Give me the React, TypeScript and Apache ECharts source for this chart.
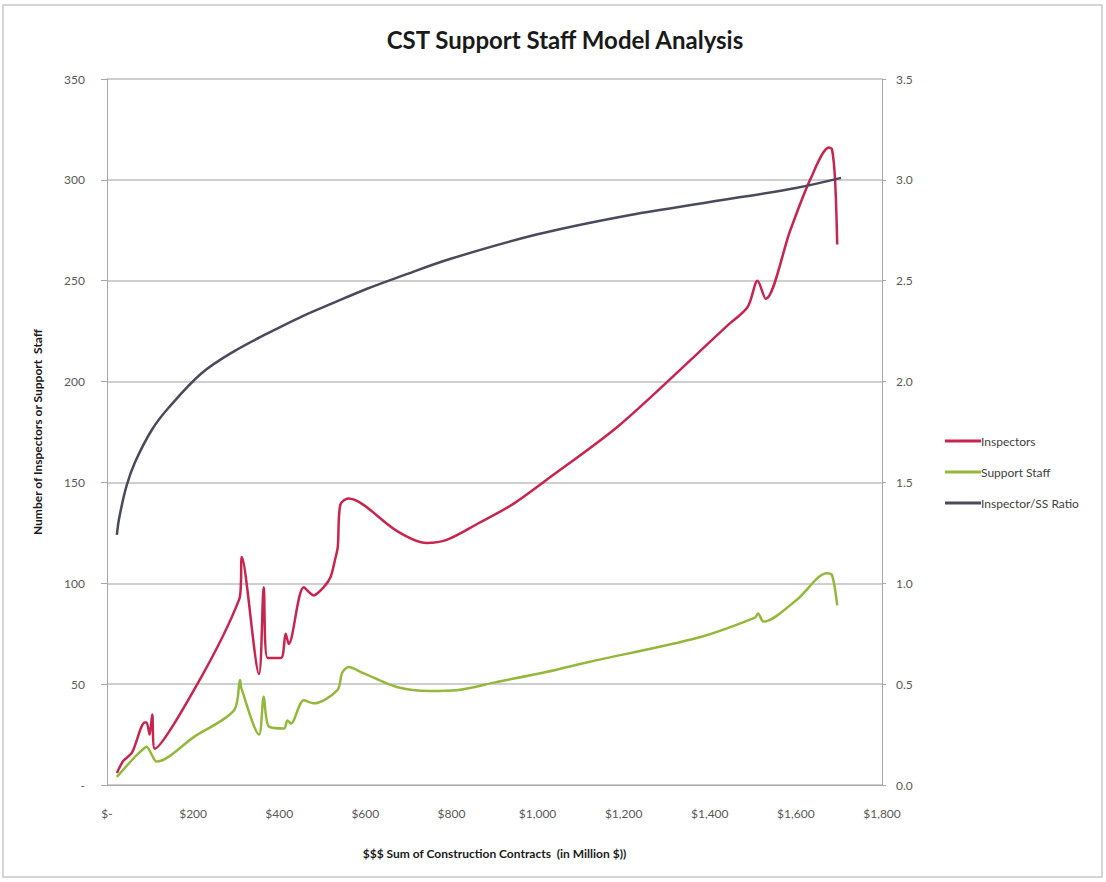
import React, { useEffect, useRef } from "react";
import * as echarts from "echarts";

const xTickLabels = ["$-", "$200", "$400", "$600", "$800", "$1,000", "$1,200", "$1,400", "$1,600", "$1,800"];

const inspX = [23, 38, 58, 88, 92, 99, 105, 111, 215, 307, 311, 313, 353, 364, 373, 404, 415, 422, 457, 480, 503, 519, 530, 536, 542, 561, 595, 673, 742, 789, 865, 941, 1019, 1188, 1372, 1442, 1488, 1511, 1530, 1587, 1633, 1677, 1684, 1691, 1696];
const inspY = [6, 12, 16, 31, 31, 25, 35, 18, 52, 92, 100, 113, 55, 98, 63, 63, 75, 70, 98, 94, 98, 103, 112, 118, 139, 142, 139, 126, 120, 121.5, 130, 139, 151, 178, 214, 228, 237, 250, 241, 275, 300, 316, 315, 300, 268];

const ssX = [23, 65, 85, 92, 104, 115, 203, 295, 309, 312, 353, 364, 376, 411, 419, 427, 457, 480, 535, 546, 561, 595, 673, 750, 812, 904, 1020, 1119, 1372, 1505, 1512, 1525, 1603, 1672, 1684, 1696];
const ssY = [4, 14, 18, 19, 15, 11.6, 24, 37, 52, 48, 25, 43.7, 29, 28, 32, 30.5, 42, 40.5, 47, 55.5, 58.5, 55.5, 48.6, 46.6, 47, 51, 56, 61, 73, 83, 85, 81, 92, 105, 104, 89];

const ratioX = [23, 28, 45, 65, 104, 143, 219, 295, 374, 450, 526, 604, 680, 800, 1000, 1200, 1400, 1600, 1705];
const ratioY = [1.24, 1.32, 1.48, 1.6, 1.76, 1.87, 2.04, 2.15, 2.24, 2.32, 2.39, 2.46, 2.52, 2.61, 2.73, 2.82, 2.89, 2.96, 3.01];

const seriesNames = ["Inspectors", "Support Staff", "Inspector/SS Ratio"];
const seriesColors = ["#C7254E", "#93B83C", "#4A4A5C"];

const zip = (xs: number[], ys: number[]) => xs.map((x, i) => [x, ys[i]]);

export default function App() {
  const ref = useRef<HTMLDivElement>(null);
  useEffect(() => {
    document.body.style.margin = "0";
    if (!ref.current) return;
    const chart = echarts.init(ref.current, null, { renderer: "svg" });
    const font = "Lato, 'Open Sans', sans-serif";
    chart.setOption({
      animation: false,
      backgroundColor: "#ffffff",
      textStyle: { fontFamily: font },
      title: {
        text: "CST Support Staff Model Analysis",
        left: 560,
        textAlign: "center",
        top: 22,
        textStyle: { fontSize: 24, fontWeight: "bold", color: "#1a1a1a", fontFamily: font },
      },
      graphic: [
        {
          type: "rect",
          shape: { x: 3, y: 5, width: 1099, height: 872 },
          style: { fill: "none", stroke: "#C8C8C8", lineWidth: 1.5 },
          silent: true,
        },
      ],
      legend: {
        orient: "vertical",
        left: 940,
        top: 430,
        itemGap: 19,
        itemWidth: 36,
        itemHeight: 3,
        icon: "rect",
        textStyle: { fontSize: 12, color: "#404040", fontFamily: font, padding: [0, 0, 0, -5] },
        data: seriesNames,
      },
      grid: { left: 107, right: 224, top: 79, bottom: 97, containLabel: false },
      xAxis: {
        type: "value",
        min: 0,
        max: 1800,
        interval: 200,
        name: "$$$ Sum of Construction Contracts  (in Million $))",
        nameLocation: "middle",
        nameGap: 62,
        nameTextStyle: { fontSize: 12, fontWeight: "bold", color: "#1a1a1a" },
        axisLine: { lineStyle: { color: "#A6A6A6" } },
        axisTick: { show: false },
        splitLine: { show: false },
        axisLabel: {
          margin: 22,
          fontSize: 12,
          color: "#595959",
          formatter: (v: number) => xTickLabels[Math.round(v / 200)] ?? "",
        },
      },
      yAxis: [
        {
          type: "value",
          min: 0,
          max: 350,
          interval: 50,
          name: "Number of Inspectors or Support  Staff",
          nameLocation: "middle",
          nameGap: 64,
          nameTextStyle: { fontSize: 12, fontWeight: "bold", color: "#1a1a1a" },
          axisLine: { show: true, lineStyle: { color: "#A6A6A6" } },
          axisTick: { show: true, length: 6, lineStyle: { color: "#A6A6A6" } },
          splitLine: { lineStyle: { color: "#BFBFBF", width: 1.5 } },
          axisLabel: {
            margin: 22,
            fontSize: 12,
            color: "#595959",
            formatter: (v: number) => (v === 0 ? "-" : String(v)),
          },
        },
        {
          type: "value",
          min: 0,
          max: 3.5,
          interval: 0.5,
          position: "right",
          axisLine: { show: true, lineStyle: { color: "#A6A6A6" } },
          axisTick: { show: true, length: 4, lineStyle: { color: "#A6A6A6" } },
          splitLine: { show: false },
          axisLabel: {
            margin: 14,
            fontSize: 12,
            color: "#595959",
            formatter: (v: number) => v.toFixed(1),
          },
        },
      ],
      series: [
        {
          name: seriesNames[0],
          type: "line",
          yAxisIndex: 0,
          data: zip(inspX, inspY),
          smooth: 0.3,
          showSymbol: false,
          symbol: "none",
          lineStyle: { width: 2.5, color: seriesColors[0] },
          itemStyle: { color: seriesColors[0] },
        },
        {
          name: seriesNames[1],
          type: "line",
          yAxisIndex: 0,
          data: zip(ssX, ssY),
          smooth: 0.3,
          showSymbol: false,
          symbol: "none",
          lineStyle: { width: 2.5, color: seriesColors[1] },
          itemStyle: { color: seriesColors[1] },
        },
        {
          name: seriesNames[2],
          type: "line",
          yAxisIndex: 1,
          data: zip(ratioX, ratioY),
          smooth: 0.35,
          showSymbol: false,
          symbol: "none",
          lineStyle: { width: 2.5, color: seriesColors[2] },
          itemStyle: { color: seriesColors[2] },
        },
      ],
    });
    return () => chart.dispose();
  }, []);
  return <div ref={ref} style={{ width: 1106, height: 882, position: "absolute", left: 0, top: 0 }} />;
}
